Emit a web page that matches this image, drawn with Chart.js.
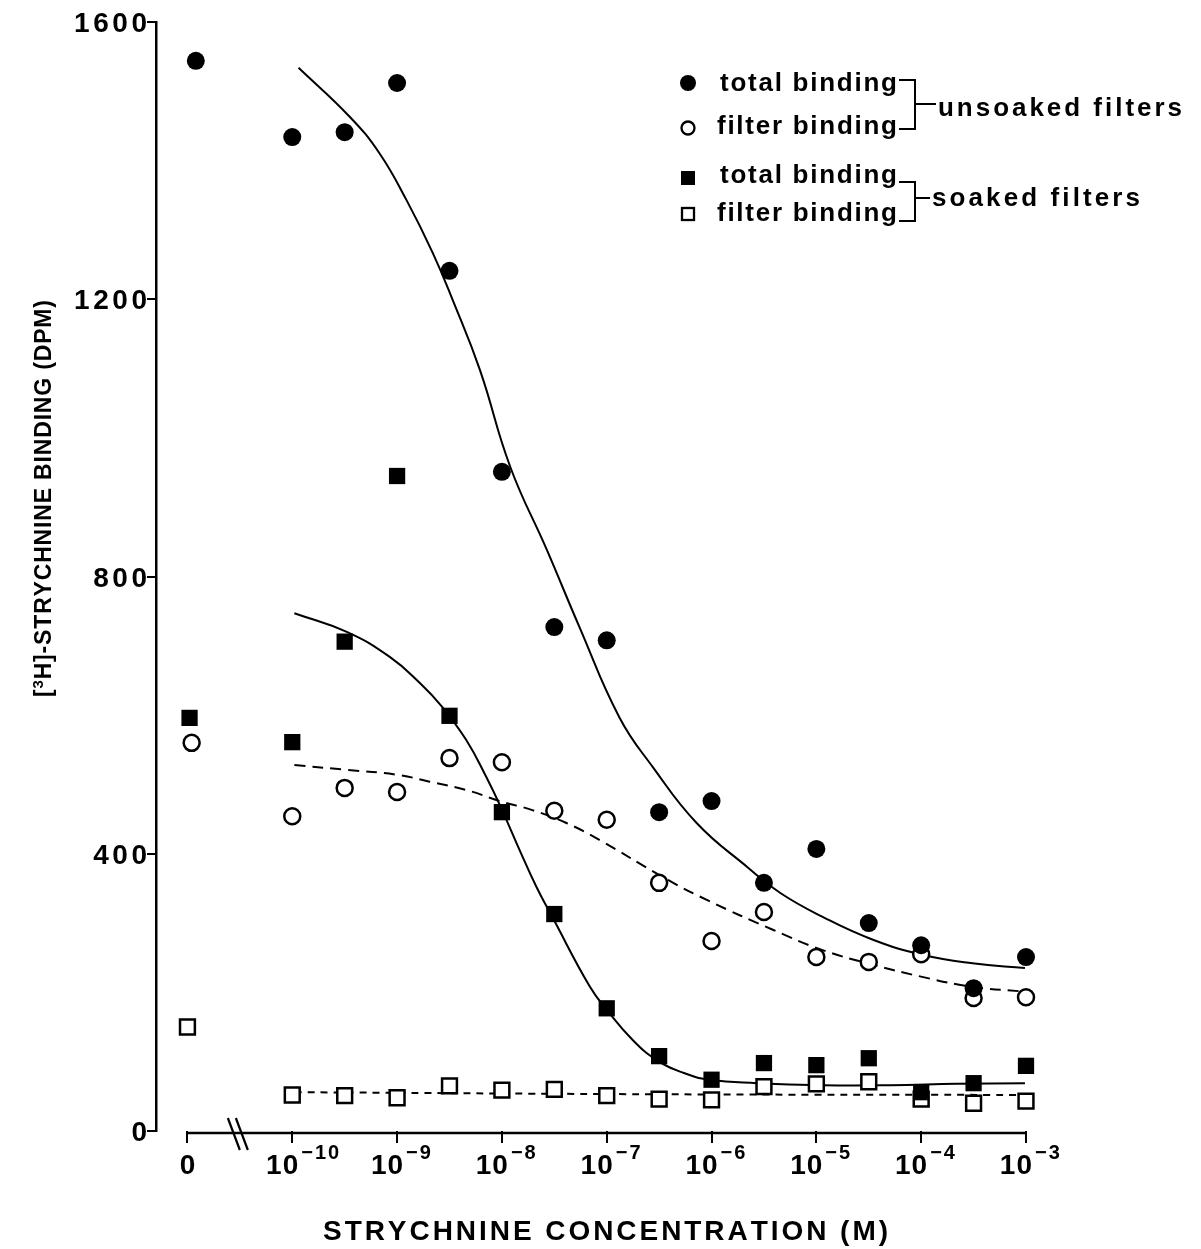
<!DOCTYPE html>
<html><head><meta charset="utf-8">
<script src="https://cdn.jsdelivr.net/npm/chart.js@4.4.1/dist/chart.umd.min.js"></script>
<style>html,body{margin:0;padding:0;background:#fff}#wrap{width:1201px;height:1249px}</style>
</head><body><div id="wrap"><canvas id="c" width="1201" height="1249"></canvas></div>
<script>
// ---------- DATA ----------
// x = log10 of strychnine concentration (M); the "0" dose is plotted at ZERO_POS
const logConc = [-10,-9.5,-9,-8.5,-8,-7.5,-7,-6.5,-6,-5.5,-5,-4.5,-4,-3.5,-3];
const ZERO_POS = -11;
const xTickValues = [-11,-10,-9,-8,-7,-6,-5,-4,-3];
const xTickExponents = ['', '−10','−9','−8','−7','−6','−5','−4','−3'];
const yTickValues = [0,400,800,1200,1600];

// unsoaked filters
const unsoakedTotalZero = 1544;
const unsoakedTotal  = [1434,1441,1512,1241,951,727,708,460,476,358,407,300,268,206,251];
const unsoakedFilterZero = 560;
const unsoakedFilter = [454,495,489,538,532,462,449,358,274,316,251,244,255,192,193];
// soaked filters
const soakedTotalZero = 596;
const soakedTotal  = [561,706,945,599,460,313,177,108,74,98,95,105,56,69,94];
const soakedFilterZero = 150;
const soakedFilter = [52,51,48,65,59,60,51,46,45,64,68,71,46,40,43];

// fitted curves
const curveUnsoakedTotalX = [-9.94,-9.45,-9.17,-8.91,-8.66,-8.47,-8.21,-7.92,-7.57,-7.26,-6.88,-6.56,-6.14,-5.66,-5.34,-4.94,-4.46,-3.98,-3.51,-3.01];
const curveUnsoakedTotalY = [1534,1463,1411,1343,1267,1199,1098,958,838,727,597,525,444,381,343,309,276,254,242,235];
const curveSoakedTotalX = [-9.98,-9.48,-9.07,-8.78,-8.57,-8.34,-8.15,-8.01,-7.83,-7.67,-7.52,-7.16,-7.00,-6.75,-6.52,-6.27,-6.02,-5.57,-4.94,-4.30,-3.66,-3.01];
const curveSoakedTotalY = [747,720,684,646,612,564,511,467,405,352,309,208,175,131,102,84,74,69,66,66,68,69];
const curveUnsoakedFilterX = [-9.98,-9.48,-9.00,-8.69,-8.34,-8.02,-7.71,-7.38,-7.07,-6.46,-6.04,-5.41,-4.94,-4.46,-3.98,-3.51,-3.01];
const curveUnsoakedFilterY = [528,521,514,504,492,476,463,444,420,366,333,290,261,240,222,208,201];
const curveSoakedFilterX = [-9.98,-6.5,-3.01];
const curveSoakedFilterY = [56,53,52];

const legendRows = ['total binding','filter binding','total binding','filter binding'];
const groupLabels = ['unsoaked filters','soaked filters'];
const xTitle = 'STRYCHNINE CONCENTRATION (M)';
const yTitleParts = ['[', '3', 'H]-STRYCHNINE BINDING (DPM)'];

// ---------- helpers ----------
const FONT = '"Liberation Sans", Arial, Helvetica, sans-serif';
function pts(zero, vals, zshift){
  return [{x: ZERO_POS + zshift, y: zero}].concat(vals.map((v,i)=>({x: logConc[i], y: v})));
}
function curve(xs, ys){ return xs.map((x,i)=>({x, y: ys[i]})); }
function rawW(ctx, s){ let w=0; for(const ch of s) w += ctx.measureText(ch).width; return w; }
function drawSpaced(ctx, s, x, y, sp){ for(const ch of s){ ctx.fillText(ch, x, y); x += ctx.measureText(ch).width + sp; } return x; }
function spacedW(ctx, s, sp){ return rawW(ctx, s) + sp*(s.length-1); }

const decor = {
  id: 'decor',
  afterDraw(chart){
    const ctx = chart.ctx, xs = chart.scales.x, ys = chart.scales.y;
    ctx.save();
    ctx.fillStyle = '#000'; ctx.strokeStyle = '#000';
    ctx.textAlign = 'left'; ctx.textBaseline = 'alphabetic';

    // x axis line with break
    const x0 = xs.getPixelForValue(xTickValues[0]);
    const x1 = xs.getPixelForValue(xTickValues[xTickValues.length-1]);
    const ay = ys.getPixelForValue(0) + 2;
    ctx.lineWidth = 2.5;
    ctx.beginPath(); ctx.moveTo(x0, ay); ctx.lineTo(x1, ay); ctx.stroke();
    const bx = (xs.getPixelForValue(xTickValues[0]) + xs.getPixelForValue(xTickValues[1]))/2 - 2;
    ctx.lineWidth = 2.2;
    for (const d of [-4, 4]) {
      ctx.beginPath(); ctx.moveTo(bx + d - 6, ay - 15); ctx.lineTo(bx + d + 6, ay + 17); ctx.stroke();
    }

    // y tick labels
    ctx.font = 'bold 28px ' + FONT;
    const ysp = (73 - rawW(ctx,'1600'))/3;
    for (const v of yTickValues) {
      const s = String(v);
      const w = spacedW(ctx, s, ysp);
      drawSpaced(ctx, s, ys.right - 9 - w, ys.getPixelForValue(v) + 10, ysp);
    }

    // x tick labels
    xTickValues.forEach((v,i)=>{
      const px = xs.getPixelForValue(v);
      if (i === 0) {
        ctx.font = 'bold 28px ' + FONT;
        const w = ctx.measureText('0').width;
        ctx.fillText('0', px - w/2, ay + 41);
      } else {
        ctx.font = 'bold 28px ' + FONT;
        const w = spacedW(ctx, '10', 1);
        drawSpaced(ctx, '10', px + 6 - w, ay + 41, 1);
        ctx.font = 'bold 20px ' + FONT;
        drawSpaced(ctx, xTickExponents[i], px + 9, ay + 26, 2);
      }
    });

    // x title
    ctx.font = 'bold 28px ' + FONT;
    const xl = 323, xr = 888;
    const xsp = (xr - xl - rawW(ctx, xTitle))/(xTitle.length-1);
    drawSpaced(ctx, xTitle, xl, 1240, xsp);

    // y title (rotated)
    ctx.save();
    ctx.translate(51, 697);
    ctx.rotate(-Math.PI/2);
    const sizes = [23, 15, 23], dys = [0, -8, 0];
    let tot = 0, n = 0;
    yTitleParts.forEach((p,i)=>{ ctx.font = 'bold ' + sizes[i] + 'px ' + FONT; tot += rawW(ctx,p); n += p.length; });
    const tsp = (397 - tot)/(n-1);
    let cx = 0;
    yTitleParts.forEach((p,i)=>{ ctx.font = 'bold ' + sizes[i] + 'px ' + FONT; cx = drawSpaced(ctx, p, cx, dys[i], tsp); });
    ctx.restore();

    // legend
    const mx = 688;
    const rowY = [83, 128, 178, 214];
    const baseY = [91, 134, 183, 221];
    const textX = [720, 717, 720, 717];
    ctx.lineWidth = 2.3;
    ctx.beginPath(); ctx.arc(mx, rowY[0], 8, 0, 2*Math.PI); ctx.fill();
    ctx.beginPath(); ctx.arc(mx, rowY[1], 6.5, 0, 2*Math.PI); ctx.fillStyle='#fff'; ctx.fill(); ctx.fillStyle='#000'; ctx.stroke();
    ctx.fillRect(mx-7, rowY[2]-7, 14, 14);
    ctx.fillStyle='#fff'; ctx.fillRect(mx-6, rowY[3]-6, 12, 12); ctx.fillStyle='#000';
    ctx.strokeRect(mx-6, rowY[3]-6, 12, 12);
    ctx.font = 'bold 26px ' + FONT;
    legendRows.forEach((s,i)=>{
      const target = (i%2) ? 180 : 177;
      drawSpaced(ctx, s, textX[i], baseY[i], (target - rawW(ctx, s))/(s.length-1));
    });
    // brackets
    ctx.lineWidth = 2;
    const brk = [[80,129,104,938,116],[182,221,198,932,206]];
    const gx = [244, 208];
    brk.forEach((b,i)=>{
      const vx = 915;
      ctx.beginPath();
      ctx.moveTo(899, b[0]); ctx.lineTo(vx, b[0]); ctx.lineTo(vx, b[1]); ctx.lineTo(899, b[1]);
      ctx.moveTo(vx, b[2]); ctx.lineTo(b[3]-2, b[2]);
      ctx.stroke();
      const s = groupLabels[i];
      drawSpaced(ctx, s, b[3], b[4], (gx[i] - rawW(ctx, s))/(s.length-1));
    });
    ctx.restore();
  }
};

const pointDs = (label, data, style, radius, fill, bw, order) => ({
  label, data, showLine: false, pointStyle: style, pointRadius: radius, pointHoverRadius: radius,
  pointBackgroundColor: fill, pointBorderColor: '#000', pointBorderWidth: bw, order, clip: false
});
const lineDs = (label, data, dash) => ({
  label, data, showLine: true, pointRadius: 0, borderColor: '#000', borderWidth: 2,
  borderDash: dash, tension: 0.45, fill: false, order: 10, clip: false
});

new Chart(document.getElementById('c'), {
  type: 'scatter',
  data: { datasets: [
    pointDs('unsoaked total binding', pts(unsoakedTotalZero, unsoakedTotal, 0.08), 'circle', 9, '#000', 0, 1),
    pointDs('unsoaked filter binding', pts(unsoakedFilterZero, unsoakedFilter, 0.04), 'circle', 8, '#fff', 2.5, 2),
    pointDs('soaked total binding', pts(soakedTotalZero, soakedTotal, 0.02), 'rect', 11.5, '#000', 0, 3),
    pointDs('soaked filter binding', pts(soakedFilterZero, soakedFilter, 0), 'rect', 10.5, '#fff', 2.5, 4),
    lineDs('fit unsoaked total', curve(curveUnsoakedTotalX, curveUnsoakedTotalY), []),
    lineDs('fit soaked total', curve(curveSoakedTotalX, curveSoakedTotalY), []),
    lineDs('fit unsoaked filter', curve(curveUnsoakedFilterX, curveUnsoakedFilterY), [11, 7]),
    lineDs('fit soaked filter', curve(curveSoakedFilterX, curveSoakedFilterY), [7, 6])
  ]},
  options: {
    responsive: false, animation: false, events: [],
    layout: { padding: { top: 22, right: 175, bottom: 0, left: 0 } },
    plugins: { legend: { display: false }, tooltip: { enabled: false } },
    scales: {
      x: {
        type: 'linear', min: -11.3, max: -3,
        afterBuildTicks: s => { s.ticks = xTickValues.map(v => ({ value: v })); },
        afterFit: s => { s.height = 118; },
        ticks: { display: false },
        grid: { drawOnChartArea: false, drawTicks: true, tickLength: 12, lineWidth: 2, color: '#000' },
        border: { display: false }
      },
      y: {
        type: 'linear', min: 0, max: 1600,
        afterBuildTicks: s => { s.ticks = yTickValues.map(v => ({ value: v })); },
        afterFit: s => { s.width = 156; },
        ticks: { display: false },
        grid: { drawOnChartArea: false, drawTicks: true, tickLength: 9, lineWidth: 2, color: '#000' },
        border: { display: true, width: 2.5, color: '#000' }
      }
    }
  },
  plugins: [decor]
});
</script></body></html>
